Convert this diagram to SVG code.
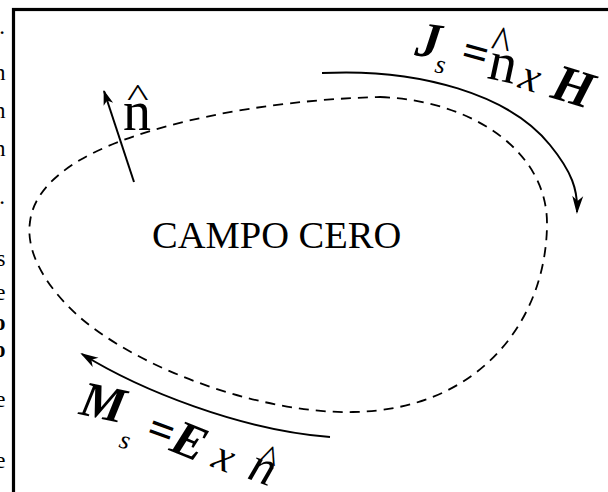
<svg xmlns="http://www.w3.org/2000/svg" width="608" height="492" viewBox="0 0 608 492">
<style>
.t{font-family:"Liberation Serif","Times New Roman",serif;fill:#000}
.bi{font-weight:bold;font-style:italic}
.it{font-style:italic}
.b{font-weight:bold}
.frag{font-family:"Liberation Serif","Times New Roman",serif;font-size:23px;fill:#000;text-anchor:end}
.line{fill:none;stroke:#000;stroke-width:2}
</style>
<defs>
<marker id="ah" markerUnits="userSpaceOnUse" markerWidth="24" markerHeight="16" viewBox="-20 -8 24 16" refX="0" refY="0" orient="auto">
<path d="M2,0 L-16,-5.5 L-11,0 L-16,5.5 Z" fill="#000"/>
</marker>
<marker id="ah2" markerUnits="userSpaceOnUse" markerWidth="24" markerHeight="16" viewBox="-20 -8 24 16" refX="0" refY="0" orient="auto">
<path d="M1,0 L-14,-5 L-10,0 L-14,5 Z" fill="#000"/>
</marker>
</defs>
<rect width="608" height="492" fill="#fff"/>
<g id="left-fragments">
<text class="frag" x="5" y="34">.</text>
<text class="frag" x="5.5" y="80">n</text>
<text class="frag" x="5.5" y="118">n</text>
<text class="frag" x="5.5" y="156">n</text>
<text class="frag" x="5" y="204">.</text>
<text class="frag" x="5.5" y="266">s</text>
<text class="frag" x="5.5" y="300">e</text>
<text class="frag" x="5.5" y="330" font-weight="bold">o</text>
<text class="frag" x="5.5" y="357" font-weight="bold">o</text>
<text class="frag" x="5.5" y="407">e</text>
<text class="frag" x="5.5" y="468">e</text>
</g>
<g id="frame">
<rect x="13.5" y="9.5" width="700" height="600" fill="none" stroke="#000" stroke-width="3.2"/>
</g>
<g id="surface">
<path d="M380,97 C470,100 548,150 547,225 C546,320 480,410 353,412 C270,414 150,375 83,320 C50,292 25,255 30,222 C33,195 55,175 80,160 C140,125 260,100 380,97 Z" fill="none" stroke="#000" stroke-width="1.8" stroke-dasharray="10,7"/>
</g>
<g id="connectors">
<path id="normal-arrow" class="line" d="M134,182 L104,91" marker-end="url(#ah2)"/>
<path id="js-arrow" class="line" d="M322,73 C420,68 510,95 550,145 C572,172 578,190 577,212" marker-end="url(#ah)"/>
<path id="ms-arrow" class="line" d="M330,437 C240,430 140,390 82,354" marker-end="url(#ah)"/>
</g>
<g id="n-label">
<text class="t" x="123" y="130" font-size="56">n</text>
<text class="t" font-size="46" transform="translate(127,106) scale(1,0.7)">^</text>
</g>
<g id="campo-cero">
<text class="t" x="152" y="248" font-size="38.5">CAMPO CERO</text>
</g>
<g id="js-label">
<text class="t bi" font-size="50" transform="translate(414,55) rotate(8)">J</text>
<text class="t it" font-size="26" transform="translate(434,72) rotate(10)">s</text>
<text class="t b" font-size="46" transform="translate(459,64) rotate(15)">=</text>
<text class="t" font-size="56" transform="translate(486,78) rotate(12)">n</text>
<text class="t" font-size="40" transform="translate(489,57) rotate(10) scale(1,1.2)">^</text>
<text class="t it" font-size="44" transform="translate(517,87) rotate(18)">x</text>
<text class="t bi" font-size="52" transform="translate(549,97) rotate(17)">H</text>
</g>
<g id="ms-label">
<text class="t bi" font-size="50" transform="translate(78,414) rotate(12)">M</text>
<text class="t it" font-size="26" transform="translate(118,447) rotate(15)">s</text>
<text class="t b" font-size="46" transform="translate(144,440) rotate(20)">=</text>
<text class="t bi" font-size="50" transform="translate(168,450) rotate(22)">E</text>
<text class="t it" font-size="44" transform="translate(210,466) rotate(22)">x</text>
<text class="t it" font-size="50" transform="translate(246,478) rotate(20)">n</text>
<text class="t" font-size="38" transform="translate(256,467) rotate(20)">^</text>
</g>
</svg>
